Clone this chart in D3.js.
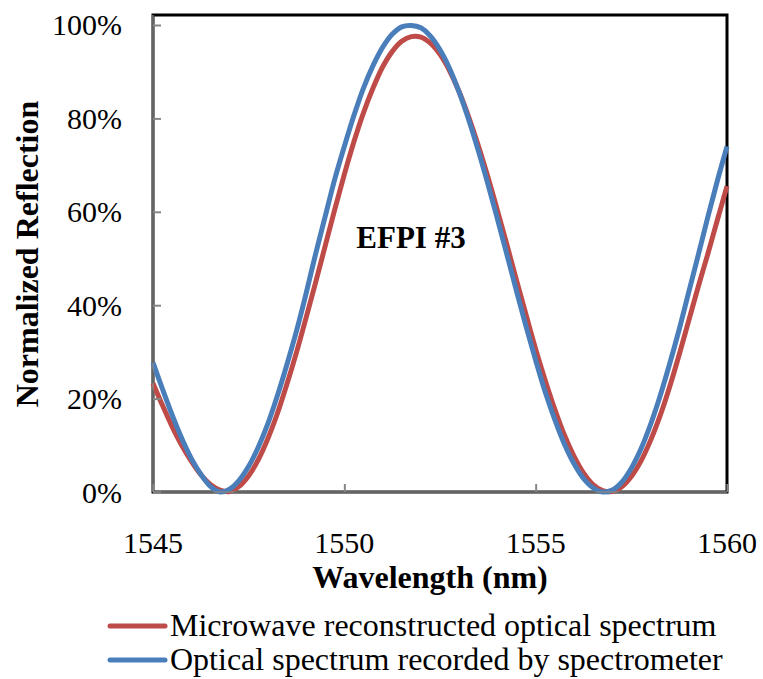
<!DOCTYPE html>
<html>
<head>
<meta charset="utf-8">
<script src="https://cdn.jsdelivr.net/npm/d3@7"></script>
<style>
  body { margin: 0; background: #fff; }
</style>
</head>
<body>
<div id="wrapper"></div>
<script>
// wavelength grid (nm), 0.25 nm steps
const wavelengths = [
  1545.00, 1545.25, 1545.50, 1545.75, 1546.00, 1546.25, 1546.50, 1546.75,
  1547.00, 1547.25, 1547.50, 1547.75, 1548.00, 1548.25, 1548.50, 1548.75,
  1549.00, 1549.25, 1549.50, 1549.75, 1550.00, 1550.25, 1550.50, 1550.75,
  1551.00, 1551.25, 1551.50, 1551.75, 1552.00, 1552.25, 1552.50, 1552.75,
  1553.00, 1553.25, 1553.50, 1553.75, 1554.00, 1554.25, 1554.50, 1554.75,
  1555.00, 1555.25, 1555.50, 1555.75, 1556.00, 1556.25, 1556.50, 1556.75,
  1557.00, 1557.25, 1557.50, 1557.75, 1558.00, 1558.25, 1558.50, 1558.75,
  1559.00, 1559.25, 1559.50, 1559.75, 1560.00
];

// microwave reconstructed optical spectrum (red)
const microwaveValues = [
  0.233, 0.185, 0.140, 0.100, 0.066, 0.037, 0.016, 0.004,
  0.001, 0.012, 0.035, 0.069, 0.114, 0.168, 0.231, 0.299,
  0.373, 0.449, 0.527, 0.605, 0.680, 0.750, 0.812, 0.865,
  0.910, 0.943, 0.965, 0.975, 0.974, 0.961, 0.937, 0.902,
  0.857, 0.803, 0.742, 0.675, 0.603, 0.529, 0.453, 0.379,
  0.306, 0.239, 0.177, 0.122, 0.077, 0.041, 0.016, 0.003,
  0.001, 0.011, 0.033, 0.066, 0.110, 0.163, 0.225, 0.294,
  0.367, 0.440, 0.510, 0.583, 0.655
];

// optical spectrum recorded by spectrometer (blue)
const spectrometerValues = [
  0.277, 0.220, 0.165, 0.115, 0.072, 0.038, 0.012, 0.000,
  0.006, 0.025, 0.055, 0.096, 0.146, 0.206, 0.273, 0.345,
  0.425, 0.510, 0.590, 0.670, 0.740, 0.806, 0.865, 0.913,
  0.952, 0.980, 0.996, 0.999, 0.994, 0.976, 0.947, 0.907,
  0.856, 0.797, 0.731, 0.660, 0.585, 0.508, 0.430, 0.354,
  0.282, 0.214, 0.155, 0.103, 0.061, 0.029, 0.009, 0.000,
  0.004, 0.021, 0.051, 0.092, 0.144, 0.205, 0.274, 0.348,
  0.428, 0.508, 0.589, 0.667, 0.740
];

const xTicks = [1545, 1550, 1555, 1560];
const yTicks = [0, 0.2, 0.4, 0.6, 0.8, 1.0];
const seriesNames = ["Microwave reconstructed optical spectrum", "Optical spectrum recorded by spectrometer"];
const seriesColors = ["#BE4B48", "#4A7EBB"];

const serif = "'Liberation Serif', 'Times New Roman', Times, serif";
const width = 763, height = 679;
const plot = { left: 153, right: 727, top: 15, bottom: 492 };

const svg = d3.select("#wrapper").append("svg")
  .attr("width", width)
  .attr("height", height)
  .attr("font-family", serif);

const x = d3.scaleLinear().domain([1545, 1560]).range([plot.left, plot.right]);
const y = d3.scaleLinear().domain([0, 1.0214]).range([plot.bottom, plot.top]);

// plot border (top/right black)
svg.append("rect")
  .attr("x", plot.left).attr("y", plot.top)
  .attr("width", plot.right - plot.left)
  .attr("height", plot.bottom - plot.top)
  .attr("fill", "none")
  .attr("stroke", "#000")
  .attr("stroke-width", 3);

// curves
const series = [microwaveValues, spectrometerValues];
const line = d3.line()
  .x((d, i) => x(wavelengths[i]))
  .y(d => y(d))
  .curve(d3.curveCatmullRom);

svg.append("g")
  .selectAll("path")
  .data(series)
  .join("path")
  .attr("d", d => line(d))
  .attr("fill", "none")
  .attr("stroke", (d, i) => seriesColors[i])
  .attr("stroke-width", 5)
  .attr("stroke-linejoin", "round");

// axes
const yAxis = svg.append("g")
  .attr("transform", `translate(${plot.left},0)`)
  .call(d3.axisRight(y).tickValues(yTicks).tickSize(8).tickFormat(""));
yAxis.select(".domain").remove();
yAxis.selectAll("line").attr("stroke", "#868686").attr("stroke-width", 2);

const xAxis = svg.append("g")
  .attr("transform", `translate(0,${plot.bottom})`)
  .call(d3.axisTop(x).tickValues(xTicks).tickSize(8).tickFormat(""));
xAxis.select(".domain").remove();
xAxis.selectAll("line").attr("stroke", "#868686").attr("stroke-width", 2);

svg.append("line")
  .attr("x1", plot.left).attr("x2", plot.left)
  .attr("y1", plot.top).attr("y2", plot.bottom)
  .attr("stroke", "#868686").attr("stroke-width", 1.5);
svg.append("line")
  .attr("x1", plot.left).attr("x2", plot.right)
  .attr("y1", plot.bottom).attr("y2", plot.bottom)
  .attr("stroke", "#868686").attr("stroke-width", 1.5);

// tick labels
svg.append("g")
  .selectAll("text")
  .data(yTicks)
  .join("text")
  .attr("x", 122)
  .attr("y", d => y(d))
  .attr("dy", "0.35em")
  .attr("text-anchor", "end")
  .style("font-family", serif)
  .style("font-size", "30px")
  .text(d3.format(".0%"));

svg.append("g")
  .selectAll("text")
  .data(xTicks)
  .join("text")
  .attr("x", d => x(d))
  .attr("y", 553)
  .attr("text-anchor", "middle")
  .style("font-family", serif)
  .style("font-size", "30px")
  .text(d => d);

// axis titles
svg.append("text")
  .attr("x", 430)
  .attr("y", 588)
  .attr("text-anchor", "middle")
  .style("font-family", serif)
  .style("font-size", "32px")
  .style("font-weight", "bold")
  .text("Wavelength (nm)");

svg.append("text")
  .attr("transform", "translate(38,254) rotate(-90)")
  .attr("text-anchor", "middle")
  .style("font-family", serif)
  .style("font-size", "32px")
  .style("font-weight", "bold")
  .text("Normalized Reflection");

svg.append("text")
  .attr("x", 411)
  .attr("y", 248)
  .attr("text-anchor", "middle")
  .style("font-family", serif)
  .style("font-size", "31px")
  .style("font-weight", "bold")
  .text("EFPI #3");

// legend
const legend = svg.append("g")
  .selectAll("g")
  .data(seriesNames)
  .join("g")
  .attr("transform", (d, i) => `translate(110,${626 + i * 34})`);
legend.append("line")
  .attr("x1", 0).attr("x2", 55)
  .attr("stroke", (d, i) => seriesColors[i])
  .attr("stroke-width", 5)
  .attr("stroke-linecap", "round");
legend.append("text")
  .attr("x", 60)
  .attr("y", 10)
  .style("font-family", serif)
  .style("font-size", "32px")
  .text(d => d);
</script>
</body>
</html>
